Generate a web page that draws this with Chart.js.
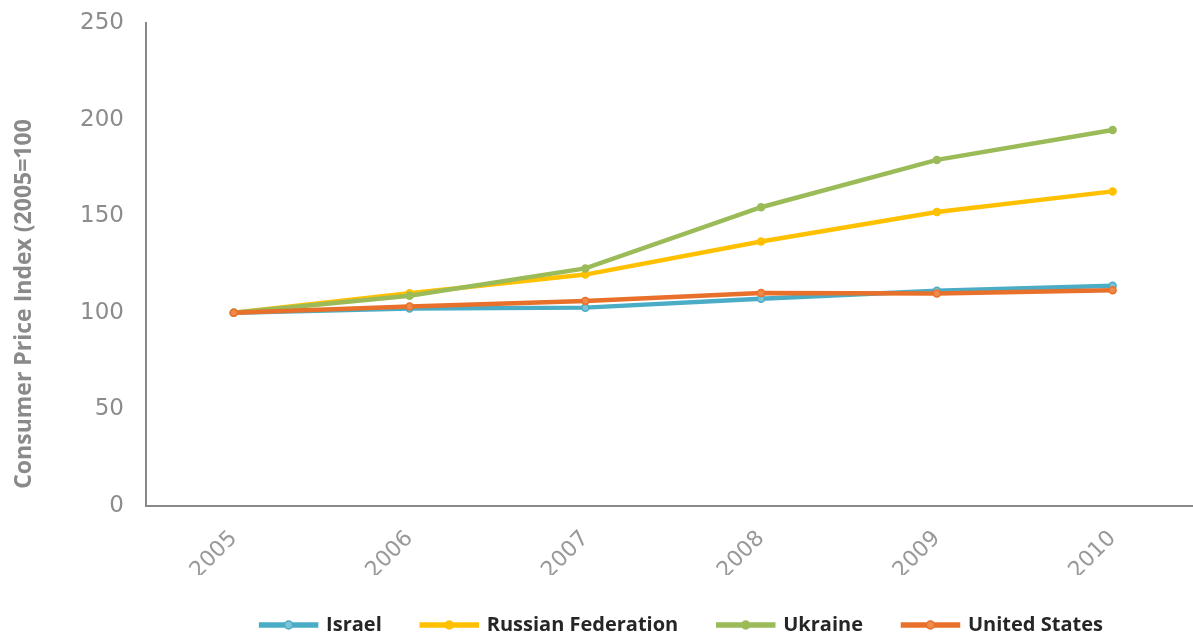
<!DOCTYPE html>
<html>
<head>
<meta charset="utf-8">
<script src="https://cdn.jsdelivr.net/npm/chart.js@4/dist/chart.umd.min.js"></script>
<style>
    html, body { margin: 0; padding: 0; background: #fff; overflow: hidden; }
    #wrap { width: 1206px; height: 635px; }
</style>
</head>
<body>
<div id="wrap"><canvas id="cpiChart" width="1206" height="635"></canvas></div>
<script>
const years = ["2005", "2006", "2007", "2008", "2009", "2010"];
const israel = [100, 102.1, 102.6, 107.2, 111.3, 113.9];
const russia = [100, 110.1, 119.7, 136.8, 152.1, 162.8];
const ukraine = [100, 108.8, 122.9, 154.6, 179.1, 194.6];
const unitedStates = [100, 103.2, 106.0, 110.2, 109.9, 111.6];
const yTitle = "Consumer Price Index (2005=100";

const gray = "#8c8c8c";
const legendShift = 100; // legend sits right of centre in the original

// y title sits lower than chart.js would centre it, so draw it by hand
const yTitlePlugin = {
    id: "yTitle",
    afterDraw(chart) {
        const ctx = chart.ctx;
        ctx.save();
        ctx.translate(24, 304);
        ctx.rotate(-Math.PI / 2);
        ctx.font = "bold 23px 'Open Sans'";
        ctx.fillStyle = "#8a8a8a";
        ctx.textAlign = "center";
        ctx.textBaseline = "middle";
        ctx.fillText(yTitle, 0, 0);
        ctx.restore();
    }
};

// nudge legend and put a marker on each legend line
const legendTweak = {
    id: "legendTweak",
    afterLayout(chart) {
        chart.legend.left += legendShift;
    },
    afterDraw(chart) {
        const ctx = chart.ctx;
        const boxes = chart.legend.legendHitBoxes;
        chart.data.datasets.forEach((ds, i) => {
            const hb = boxes[i];
            if (!hb) return;
            const cx = hb.left + 55 / 2;
            const cy = hb.top + hb.height / 2;
            ctx.save();
            ctx.beginPath();
            ctx.arc(cx, cy, 4, 0, Math.PI * 2);
            ctx.fillStyle = ds.pointBackgroundColor;
            ctx.strokeStyle = ds.borderColor;
            ctx.lineWidth = 1.5;
            ctx.fill();
            ctx.stroke();
            ctx.restore();
        });
    }
};

function series(label, data, color, fill, order) {
    return {
        label: label,
        data: data,
        borderColor: color,
        backgroundColor: color,
        borderWidth: 4.5,
        pointRadius: 3.5,
        pointBorderWidth: 1.5,
        pointBorderColor: color,
        pointBackgroundColor: fill,
        tension: 0,
        order: order
    };
}

new Chart(document.getElementById("cpiChart").getContext("2d"), {
    type: "line",
    data: {
        labels: years,
        datasets: [
            series("Israel", israel, "#4BACC6", "#7cc3d6", 4),
            series("Russian Federation", russia, "#FFC000", "#FFC000", 3),
            series("Ukraine", ukraine, "#9BBB59", "#9BBB59", 2),
            series("United States", unitedStates, "#E8702A", "#f08a4b", 1)
        ]
    },
    options: {
        responsive: false,
        animation: false,
        layout: { padding: { left: 58, top: 23, right: 0, bottom: 0 } },
        plugins: {
            legend: {
                position: "bottom",
                maxHeight: 60,
                labels: {
                    boxWidth: 55,
                    boxHeight: 1,
                    padding: 40,
                    color: "#262626",
                    font: { family: "'Open Sans'", size: 20, weight: "bold" },
                    sort: (a, b) => a.datasetIndex - b.datasetIndex
                }
            },
            tooltip: { enabled: false }
        },
        scales: {
            x: {
                offset: true,
                grid: { display: false, drawTicks: false },
                border: { display: true, color: "#898989", width: 2 },
                ticks: {
                    color: "#999999",
                    font: { family: "'DejaVu Sans'", size: 22 },
                    maxRotation: 45,
                    minRotation: 45,
                    padding: 20
                },
                afterFit(scale) { scale.height -= 29; }
            },
            y: {
                min: 0,
                max: 250,
                grid: { display: false, drawTicks: false },
                border: { display: true, color: "#898989", width: 2 },
                ticks: {
                    stepSize: 50,
                    color: gray,
                    font: { family: "'DejaVu Sans'", size: 23 },
                    padding: 22
                },
                afterFit(scale) { scale.paddingTop = 0; }
            }
        }
    },
    plugins: [yTitlePlugin, legendTweak]
});
</script>
</body>
</html>
